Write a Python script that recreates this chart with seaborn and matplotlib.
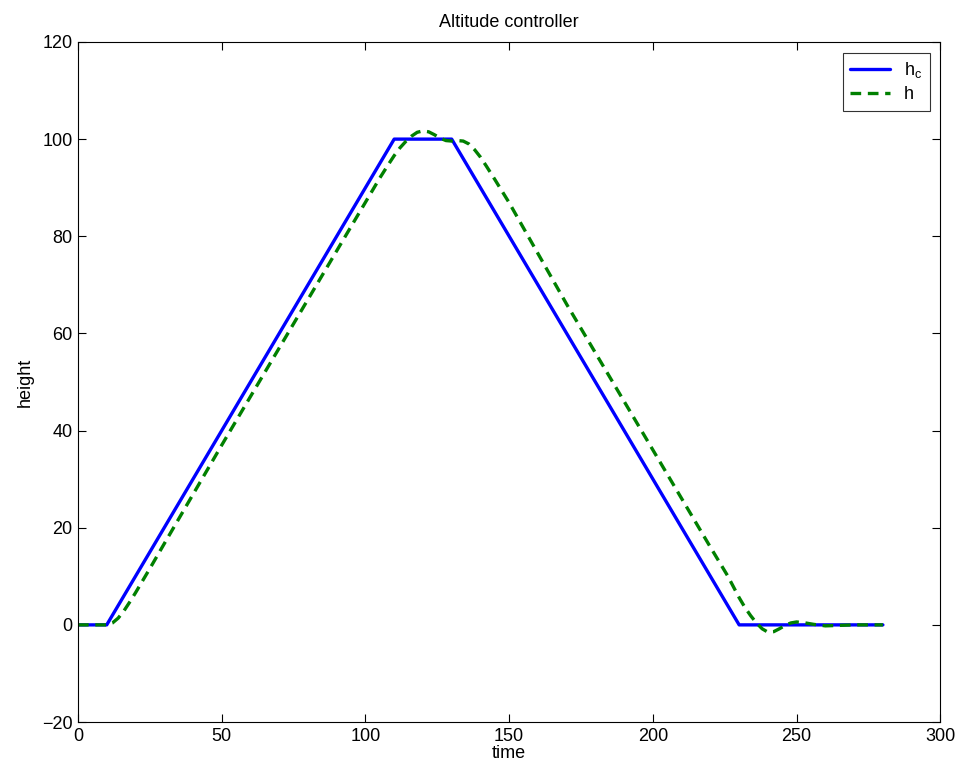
import matplotlib
matplotlib.use("Agg")
import matplotlib.pyplot as plt
import seaborn as sns
import pandas as pd

# Commanded altitude h_c
t_cmd = [0, 10, 110, 130, 230, 280]
h_cmd = [0, 0, 100, 100, 0, 0]

t_act = [0, 10, 12, 14, 16, 18, 20, 25, 30, 50, 80, 100, 105, 108, 110, 112, 114, 116,
         118, 120, 122, 124, 126, 128, 130, 132, 134, 136, 138, 140, 142, 145, 150,
         170, 200, 220, 226, 230, 232, 234, 236, 238, 240, 242, 244, 246, 248, 250,
         253, 256, 260, 265, 270, 280]
h_act = [0, 0, 0.4, 1.4, 2.9, 4.7, 6.6, 11.6, 16.7, 37.0, 67.0, 87.0, 92.0, 94.8, 96.6,
         98.2, 99.5, 100.6, 101.4, 101.7, 101.5, 100.9, 100.2, 99.7, 99.6, 99.7, 99.6,
         99.0, 97.8, 96.3, 94.5, 91.7, 86.9, 66.0, 36.0, 16.0, 10.1, 5.6, 3.6, 1.9, 0.4,
         -0.8, -1.5, -1.4, -0.8, -0.1, 0.4, 0.6, 0.4, 0.1, -0.2, -0.1, 0.0, 0.0]

title = "Altitude controller"
xlabel = "time"
ylabel = "height"

sns.set_style("white")
plt.rcParams['font.family'] = ['Liberation Sans', 'DejaVu Sans']
plt.rcParams['text.color'] = 'black'
plt.rcParams['axes.labelcolor'] = 'black'

fs = 13
fig = plt.figure(figsize=(9.58, 7.70), dpi=100)
ax = fig.add_axes([0.0814, 0.0623, 0.9002, 0.8832])

df1 = pd.DataFrame({"t": t_cmd, "h": h_cmd})
df2 = pd.DataFrame({"t": t_act, "h": h_act})
sns.lineplot(data=df1, x="t", y="h", ax=ax, color="#0000ff", lw=2.4, label="h$_\\mathregular{c}$")
sns.lineplot(data=df2, x="t", y="h", ax=ax, color="#008000", lw=2.4, ls=(0, (3.2, 2.0)), label="h")

ax.set_xlim(0, 300)
ax.set_ylim(-20, 120)
ax.set_xticks(range(0, 301, 50))
ax.set_yticks(range(-20, 121, 20))
ax.set_yticklabels(["\u221220"] + [str(v) for v in range(0, 121, 20)])
ax.tick_params(direction="in", length=6, width=0.8, top=True, right=True, bottom=True, left=True,
               labelsize=fs, colors="black", pad=4)
for s in ax.spines.values():
    s.set_color("black")
    s.set_linewidth(0.8)
ax.set_title(title, fontsize=fs, pad=11, color="black")
ax.set_xlabel(xlabel, fontsize=fs, labelpad=0, color="black")
ax.set_ylabel(ylabel, fontsize=fs, labelpad=6, color="black")
leg = ax.legend(loc="upper right", frameon=True, fancybox=False, fontsize=fs, handlelength=2.2,
                borderaxespad=0.6, handletextpad=0.8, labelspacing=0.35)
leg.get_frame().set_edgecolor("black")
leg.get_frame().set_linewidth(0.8)
for txt in leg.get_texts():
    txt.set_color("black")

fig.savefig("out.png", dpi=100, facecolor="white")
